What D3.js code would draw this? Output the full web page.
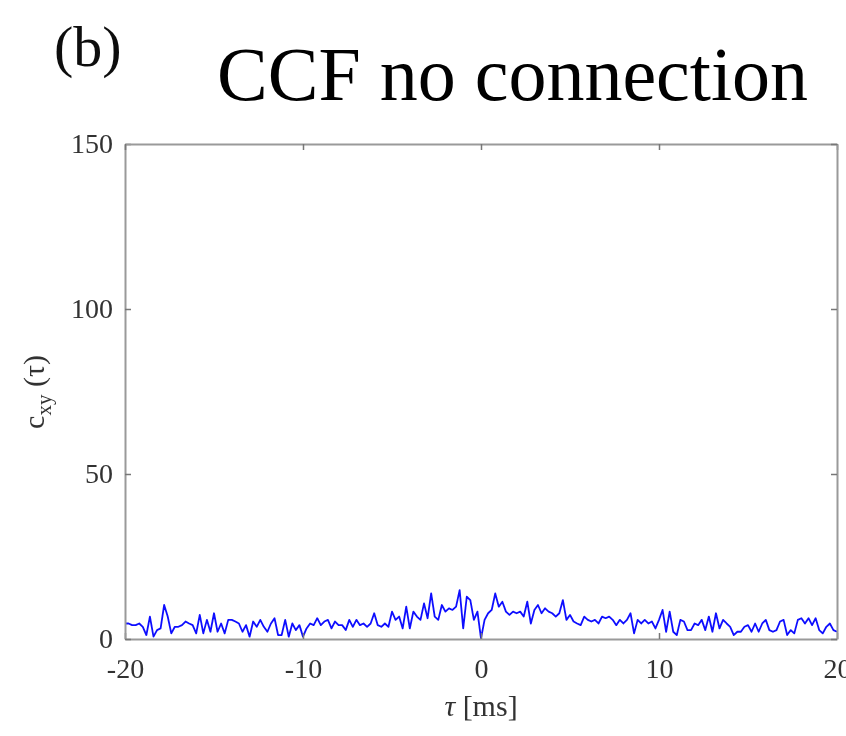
<!DOCTYPE html>
<html lang="en">
<head>
<meta charset="utf-8">
<title>CCF no connection</title>
<script src="https://cdn.jsdelivr.net/npm/d3@7"></script>
<style>
  body { margin: 0; background: #fff; }
  svg text { font-family: "Liberation Serif", "Times New Roman", serif; }
</style>
</head>
<body>
<script>
// lag grid: -20 ms .. 20 ms, one bin every 0.2 ms
var lagStart = -20, lagStep = 0.2;
// cross-correlation counts, one per bin
var ccfLeft = [4.7,4.7,4.2,4.2,4.7,3.7,1.2,6.8,0.7,2.7,
               3.2,10.3,6.8,1.7,3.7,3.7,4.2,5.3,4.7,4.2,
               1.7,7.3,1.7,5.8,2.2,7.8,2.2,4.7,1.7,5.8,
               5.8,5.3,4.7,2.2,4.2,0.7,5.3,3.7,5.8,3.7,
               2.2,4.7,6.3,1.2,1.2,5.8,0.7,4.7,2.7,4.2,
               0.7,3.2,4.7,4.2,6.3,4.2,5.3,5.8,3.2,5.3,
               4.2,4.2,2.7,5.8,3.7,5.8];
var ccfMid = [4.2,4.7,3.7,4.7,7.8,4.2,3.7,4.7,3.7,8.3,
              5.8,6.8,3.2,9.8,3.2,8.3,6.8,5.8,10.8,6.3,
              13.8,6.8,5.8,10.3,8.3,9.3,8.8,9.8,14.8,3.2,
              12.8,11.8,5.8,8.3,0.2,5.8,7.8,8.8,13.8,9.8,
              11.3,8.3,7.3,8.3,7.8,8.3,6.8,11.3,4.7,8.8,
              10.3,7.8,9.3,8.3,7.8,6.8,7.8,11.8,5.8,7.3,
              5.3,4.7,4.2,6.8,5.8];
var ccfRight = [5.3,5.8,4.7,6.8,6.3,6.8,5.8,4.2,5.8,4.7,
                5.8,7.8,1.7,5.8,4.7,5.8,4.7,5.3,3.2,5.8,
                8.8,2.2,8.3,2.2,1.2,5.8,5.3,2.7,2.7,4.7,
                4.2,5.8,2.7,6.8,2.2,7.8,3.2,5.8,4.7,3.7,
                1.2,2.2,2.2,3.7,4.2,2.2,4.7,2.2,4.7,5.8,
                2.7,2.2,2.7,5.3,5.8,1.2,2.7,1.7,5.8,6.3,
                4.7,6.3,4.2,6.3,2.7,1.7,3.7,4.7,2.7,2.2];
var ccfValues = ccfLeft.concat(ccfMid, ccfRight);

var xTicks = [-20, -10, 0, 10, 20];
var yTicks = [0, 50, 100, 150];

var width = 846, height = 736;
var margin = {top: 144, right: 9, bottom: 97, left: 125};
var plotW = width - margin.left - margin.right;
var plotH = height - margin.top - margin.bottom;

var svg = d3.select("body").append("svg")
  .attr("width", width)
  .attr("height", height);

svg.append("defs").append("filter").attr("id", "soft")
  .append("feGaussianBlur").attr("stdDeviation", 0.6);

var g = svg.append("g")
  .attr("transform", "translate(" + margin.left + "," + margin.top + ")");

var xScale = d3.scaleLinear().domain([-20, 20]).range([0, plotW]);
var yScale = d3.scaleLinear().domain([0, 150]).range([plotH, 0]);

// data line
var line = d3.line()
  .x(function(d, i){ return xScale(lagStart + i * lagStep); })
  .y(function(d){ return yScale(d); });

g.append("path")
  .datum(ccfValues)
  .attr("fill", "none")
  .attr("stroke", "#1010ff")
  .attr("stroke-width", 1.8)
  .attr("stroke-linejoin", "round")
  .attr("filter", "url(#soft)")
  .attr("d", line);

// axes, ticks pointing inwards
var axisColor = "#9a9a9a", textColor = "#333";
var plain = function(d){ return String(d); };   // hyphen, not unicode minus

var xAxis = d3.axisBottom(xScale).tickValues(xTicks).tickFormat(plain)
  .tickSizeInner(-6).tickSizeOuter(0).tickPadding(19);
var yAxis = d3.axisLeft(yScale).tickValues(yTicks).tickFormat(plain)
  .tickSizeInner(-6).tickSizeOuter(0).tickPadding(12);

g.append("g").attr("class", "axis")
  .attr("transform", "translate(0," + plotH + ")")
  .call(xAxis);
g.append("g").attr("class", "axis")
  .call(yAxis);
g.append("g").attr("class", "axis")
  .call(d3.axisTop(xScale).tickValues(xTicks).tickSizeInner(-6).tickSizeOuter(0).tickFormat(""));
g.append("g").attr("class", "axis")
  .attr("transform", "translate(" + plotW + ",0)")
  .call(d3.axisRight(yScale).tickValues(yTicks).tickSizeInner(-6).tickSizeOuter(0).tickFormat(""));

g.selectAll(".axis path.domain").attr("stroke", axisColor).attr("stroke-width", 2);
g.selectAll(".axis .tick line").attr("stroke", "#777").attr("stroke-width", 1.5);
g.selectAll(".axis text")
  .attr("fill", textColor)
  .style("font-size", "28px")
  .style("font-family", "Liberation Serif, serif")
  .attr("filter", "url(#soft)");

// axis labels
svg.append("text")
  .attr("x", 481).attr("y", 716)
  .attr("text-anchor", "middle")
  .attr("fill", textColor)
  .style("font-size", "30px")
  .attr("filter", "url(#soft)")
  .html('<tspan font-style="italic">\u03C4</tspan> [ms]');

var yl = svg.append("text")
  .attr("transform", "translate(44,392) rotate(-90)")
  .attr("text-anchor", "middle")
  .attr("fill", textColor)
  .style("font-size", "30px")
  .attr("filter", "url(#soft)");
yl.append("tspan").text("c");
yl.append("tspan").attr("dy", 7).style("font-size", "21px").text("xy");
yl.append("tspan").attr("dy", -7).text(" (");
yl.append("tspan").text("\u03C4");
yl.append("tspan").text(")");

// panel letter and title
svg.append("text")
  .attr("x", 54).attr("y", 66)
  .attr("fill", "#111")
  .style("font-size", "58px")
  .attr("filter", "url(#soft)")
  .text("(b)");

svg.append("text")
  .attr("x", 217).attr("y", 100)
  .attr("fill", "#000")
  .style("font-size", "76px")
  .text("CCF no connection");
</script>
</body>
</html>
